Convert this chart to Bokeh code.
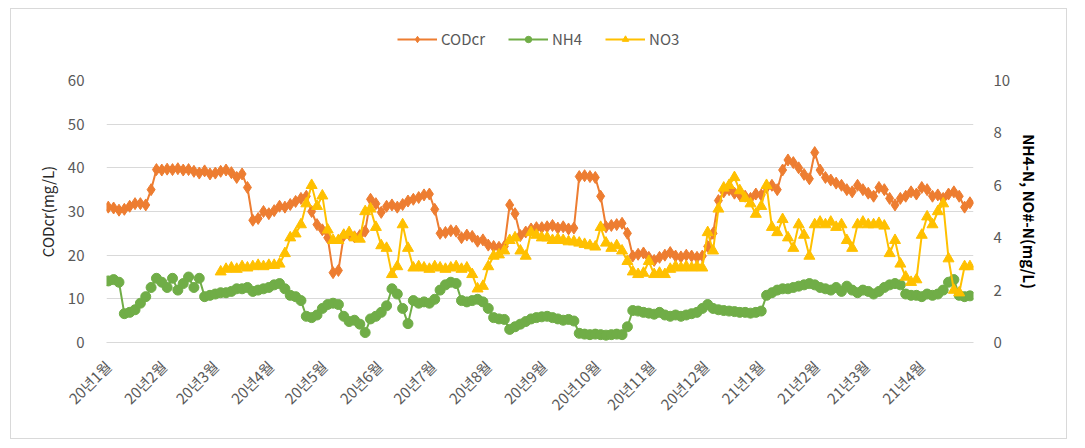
import numpy as np
from math import pi
from bokeh.plotting import figure
from bokeh.layouts import column
from bokeh.models import Range1d, LinearAxis, FixedTicker, Legend, LegendItem
from bokeh.embed import file_html
from bokeh.resources import INLINE

# sampling every 3 days starting 2020-01-01 (day 0)
step_days = 3

cod = [31.0, 30.8, 30.3, 30.5, 31.2, 31.8, 31.8, 31.5, 35.0, 39.6,
       39.5, 39.7, 39.6, 39.8, 39.5, 39.6, 39.2, 38.8, 39.3, 38.6,
       38.8, 39.2, 39.5, 38.9, 37.8, 38.6, 35.5, 28.0, 28.4, 30.0,
       29.5, 30.2, 31.2, 31.0, 31.6, 32.3, 33.0, 33.5, 30.0, 27.0,
       25.8, 24.0, 16.0, 16.5, 24.5, 24.8, 24.2, 24.5, 25.5, 32.8,
       31.8, 29.8, 31.2, 31.5, 31.0, 31.6, 32.4, 32.8, 33.2, 33.8,
       34.0, 30.5, 25.0, 25.2, 25.6, 25.5, 24.0, 24.6, 24.3, 23.2,
       23.5, 22.3, 22.0, 21.8, 22.0, 31.5, 29.5, 24.5, 25.3, 26.0,
       26.3, 26.3, 26.5, 26.8, 26.2, 26.5, 26.0, 26.2, 38.0, 38.2,
       38.0, 37.8, 33.5, 26.5, 26.8, 27.0, 27.3, 25.0, 19.8, 20.2,
       20.5, 19.5, 18.8, 19.5, 20.0, 20.6, 19.8, 19.6, 20.0, 19.8,
       19.5, 19.8, 22.0, 25.0, 32.5, 34.5, 35.0, 34.2, 33.8, 33.5,
       33.0, 34.0, 33.8, 35.5, 36.0, 35.0, 39.5, 41.8, 41.2, 40.0,
       38.5, 37.5, 43.5, 39.5, 37.8, 37.2, 36.5, 36.0, 35.0, 34.5,
       36.0, 35.0, 34.2, 33.5, 35.5, 35.0, 33.0, 31.5, 33.0, 33.5,
       34.5, 34.0, 35.5, 35.0, 33.5, 33.8, 33.0, 34.0, 34.5, 33.5,
       31.0, 32.0]

nh4 = [2.35, 2.4, 2.3, 1.1, 1.15, 1.25, 1.5, 1.75, 2.1, 2.45,
       2.3, 2.1, 2.45, 2.0, 2.25, 2.5, 2.1, 2.45, 1.75, 1.8,
       1.85, 1.9, 1.9, 1.95, 2.05, 2.05, 2.1, 1.95, 2.0, 2.05,
       2.1, 2.2, 2.25, 2.05, 1.8, 1.75, 1.6, 1.0, 0.95, 1.05,
       1.3, 1.45, 1.5, 1.45, 1.0, 0.8, 0.85, 0.7, 0.38, 0.9,
       1.0, 1.15, 1.4, 2.05, 1.85, 1.3, 0.72, 1.6, 1.5, 1.55,
       1.5, 1.65, 2.0, 2.2, 2.3, 2.25, 1.6, 1.55, 1.6, 1.65,
       1.55, 1.3, 0.95, 0.9, 0.88, 0.5, 0.6, 0.7, 0.8, 0.9,
       0.95, 0.98, 1.0, 0.95, 0.9, 0.85, 0.88, 0.82, 0.35, 0.32,
       0.3, 0.32, 0.3, 0.28, 0.3, 0.32, 0.3, 0.6, 1.22, 1.2,
       1.15, 1.12, 1.08, 1.15, 1.05, 1.0, 1.05, 1.0, 1.05, 1.1,
       1.15, 1.3, 1.45, 1.3, 1.25, 1.22, 1.2, 1.18, 1.15, 1.15,
       1.12, 1.15, 1.2, 1.8, 1.9, 2.0, 2.05, 2.05, 2.1, 2.15,
       2.2, 2.25, 2.2, 2.1, 2.05, 2.0, 2.1, 1.95, 2.15, 2.0,
       1.9, 2.0, 1.95, 1.85, 1.95, 2.1, 2.2, 2.25, 2.2, 1.85,
       1.8, 1.8, 1.75, 1.85, 1.8, 1.85, 2.0, 2.3, 2.4, 1.8,
       1.75, 1.78]

nan = float("nan")
no3 = [nan] * 21 + [
       2.7, 2.8, 2.85, 2.8, 2.9, 2.85, 2.9, 2.95, 2.9,
       2.95, 2.95, 3.0, 3.4, 4.0, 4.15, 4.5, 5.3, 6.0, 5.2,
       5.6, 4.3, 3.9, 3.9, 4.1, 4.2, 4.0, 3.95, 5.0, 5.1,
       4.4, 3.7, 3.6, 2.6, 2.9, 4.5, 3.6, 2.85, 2.9, 2.85,
       2.8, 2.9, 2.85, 2.8, 2.85, 2.9, 2.8, 2.85, 2.6, 2.05,
       2.15, 2.9, 3.3, 3.35, 3.5, 3.9, 4.0, 3.5, 3.3, 4.2,
       4.1, 4.0, 4.0, 3.9, 3.95, 3.9, 3.85, 3.85, 3.8, 3.75,
       3.7, 3.65, 4.4, 3.8, 3.6, 3.7, 3.5, 3.1, 2.7, 2.6,
       2.65, 3.1, 2.6, 2.65, 2.6, 2.8, 2.9, 2.85, 2.9, 2.85,
       2.9, 2.85, 4.2, 3.5, 5.1, 5.9, 6.0, 6.3, 5.8, 5.5,
       5.3, 4.9, 5.2, 6.0, 4.4, 4.2, 4.7, 4.0, 3.6, 4.5,
       4.1, 3.3, 4.5, 4.6, 4.5, 4.6, 4.4, 4.5, 3.9, 3.6,
       4.5, 4.6, 4.5, 4.5, 4.55, 4.45, 3.4, 3.9, 3.0, 2.5,
       2.3, 2.4, 4.1, 4.8, 4.5, 5.0, 5.3, 3.2, 2.0, 1.9,
       2.9, 2.9]

month_days = [0, 31, 60, 91, 121, 152, 182, 213, 244, 274, 305, 335,
              366, 397, 425, 456]
month_labels = ["20년1월", "20년2월", "20년3월", "20년4월", "20년5월", "20년6월",
                "20년7월", "20년8월", "20년9월", "20년10월", "20년11월", "20년12월",
                "21년1월", "21년2월", "21년3월", "21년4월"]

left_ticks = [0, 10, 20, 30, 40, 50, 60]
right_ticks = [0, 2, 4, 6, 8, 10]

days = np.arange(len(cod)) * step_days

C_COD = "#ED7D31"
C_NH4 = "#70AD47"
C_NO3 = "#FFC000"
TXT = "#595959"
FONT = "Noto Sans CJK KR"

W = 1055

# ---------- main chart ----------
p = figure(width=W, height=370, output_backend="svg", toolbar_location=None,
           x_range=Range1d(-1, 485), y_range=Range1d(0, 60),
           min_border_left=95, min_border_right=93, min_border_top=12,
           min_border_bottom=96)
p.outline_line_color = None
p.background_fill_color = "white"
p.border_fill_color = "white"

p.extra_y_ranges = {"n": Range1d(0, 10)}

p.xgrid.grid_line_color = None
p.ygrid.grid_line_color = "#d9d9d9"
p.ygrid.grid_line_width = 1.2
p.ygrid.ticker = FixedTicker(ticks=left_ticks)

xa = p.xaxis[0]
xa.ticker = FixedTicker(ticks=month_days)
xa.major_label_overrides = {d: l for d, l in zip(month_days, month_labels)}
xa.major_label_orientation = pi / 4
xa.major_label_text_align = "right"
xa.axis_line_color = "#d9d9d9"
xa.major_tick_line_color = None
xa.minor_tick_line_color = None
xa.major_label_text_color = TXT
xa.major_label_text_font = FONT
xa.major_label_text_font_size = "15px"
xa.major_label_standoff = 15

ya = p.yaxis[0]
ya.ticker = FixedTicker(ticks=left_ticks)
ya.axis_line_color = None
ya.major_tick_line_color = None
ya.minor_tick_line_color = None
ya.major_label_text_color = TXT
ya.major_label_text_font = FONT
ya.major_label_text_font_size = "15px"
ya.major_label_standoff = 16
ya.axis_label = "CODcr(mg/L)"
ya.axis_label_text_font = FONT
ya.axis_label_text_font_style = "normal"
ya.axis_label_text_font_size = "15px"
ya.axis_label_text_color = "#262626"
ya.axis_label_standoff = 7

ra = LinearAxis(y_range_name="n", ticker=FixedTicker(ticks=right_ticks))
ra.axis_line_color = None
ra.major_tick_line_color = None
ra.minor_tick_line_color = None
ra.major_label_text_color = TXT
ra.major_label_text_font = FONT
ra.major_label_text_font_size = "15px"
ra.major_label_standoff = 14
ra.axis_label = "NH4-N, NO#-N(mg/L)"
ra.axis_label_text_font = FONT
ra.axis_label_text_font_style = "bold"
ra.axis_label_text_font_size = "15px"
ra.axis_label_text_color = "#000000"
ra.axis_label_standoff = 6
p.add_layout(ra, "right")

p.line(days, cod, line_color=C_COD, line_width=2)
p.scatter(days, cod, marker="diamond", size=12, fill_color=C_COD, line_color=C_COD)
p.line(days, nh4, line_color=C_NH4, line_width=2, y_range_name="n")
p.scatter(days, nh4, marker="circle", size=10, fill_color=C_NH4, line_color=C_NH4,
          y_range_name="n")
p.line(days, no3, line_color=C_NO3, line_width=2, y_range_name="n")
p.scatter(days, no3, marker="triangle", size=11, fill_color=C_NO3, line_color=C_NO3,
          y_range_name="n")

# ---------- legend strip (its ranges keep these key glyphs out of view) ----------
lg = figure(width=W, height=59, output_backend="svg", toolbar_location=None,
            x_range=Range1d(-1000, -999), y_range=Range1d(-1000, -999), min_border=0)
lg.axis.visible = False
lg.grid.visible = False
lg.outline_line_color = None
lg.background_fill_color = "white"
lg.border_fill_color = "white"

r1 = lg.line(days, cod, line_color=C_COD, line_width=2)
m1 = lg.scatter(days, cod, marker="diamond", size=10, fill_color=C_COD, line_color=C_COD)
r2 = lg.line(days, nh4, line_color=C_NH4, line_width=2)
m2 = lg.scatter(days, nh4, marker="circle", size=8, fill_color=C_NH4, line_color=C_NH4)
r3 = lg.line(days, no3, line_color=C_NO3, line_width=2)
m3 = lg.scatter(days, no3, marker="triangle", size=9, fill_color=C_NO3, line_color=C_NO3)

legend = Legend(items=[LegendItem(label="CODcr", renderers=[r1, m1]),
                       LegendItem(label="NH4", renderers=[r2, m2]),
                       LegendItem(label="NO3", renderers=[r3, m3])],
                orientation="horizontal", location=(291, 19),
                border_line_color=None, background_fill_alpha=0,
                label_text_font=FONT, label_text_font_size="15px",
                label_text_color=TXT, glyph_width=40, glyph_height=16,
                label_standoff=4, spacing=23, padding=4, margin=0)
lg.add_layout(legend, "center")

layout = column(lg, p, spacing=0, margin=(8, 0, 0, 10),
                styles={"border": "1px solid #d9d9d9"})

open("out.html", "w").write(file_html(layout, INLINE))
